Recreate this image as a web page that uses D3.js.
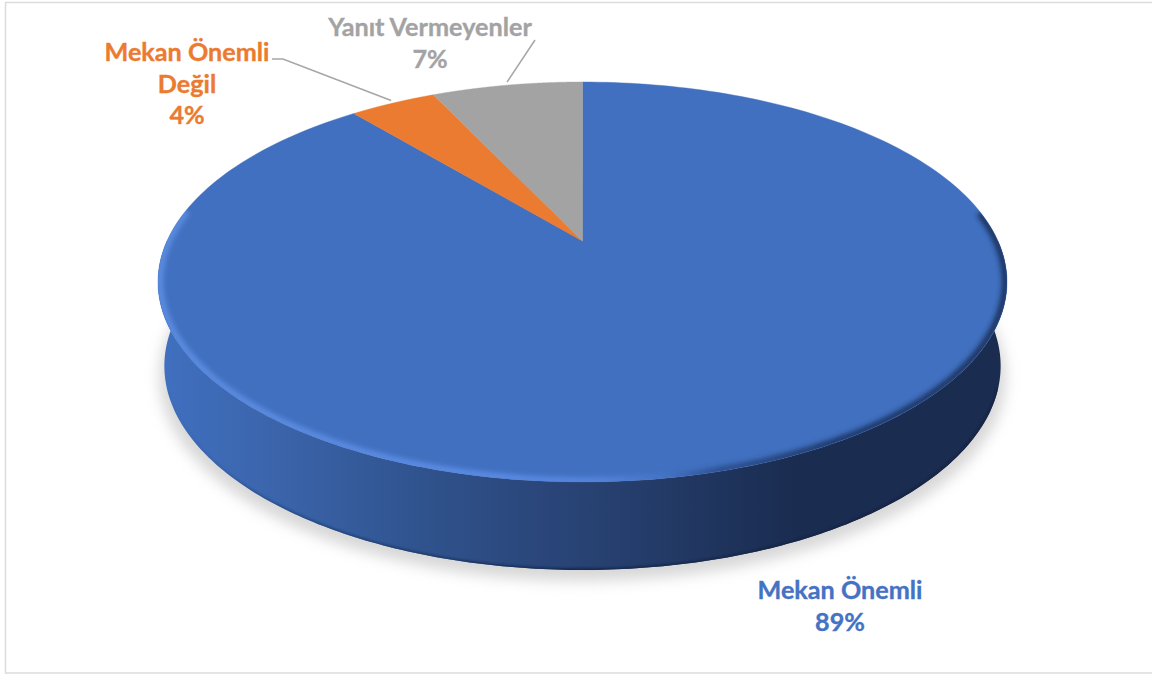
<!DOCTYPE html>
<html><head><meta charset="utf-8">
<script src="https://cdn.jsdelivr.net/npm/d3@7"></script>
<style>html,body{margin:0;padding:0;background:#fff}svg{display:block}text{font-family:Lato,"Open Sans",sans-serif;font-weight:700}</style>
</head><body><svg id="c" width="1152" height="674"></svg>
<script>
const categories=["Mekan Önemli","Mekan Önemli Değil","Yanıt Vermeyenler"];
const values=[89,4,7];
const colors=["#4170c0","#ea7b30","#a3a3a3"];
const labelLines=[["Mekan Önemli","89%"],["Mekan Önemli","Değil","4%"],["Yanıt Vermeyenler","7%"]];

const W=1152,H=674;
const svg=d3.select("#c");
const defs=svg.append("defs");
const cx=582.5,apexY=241,R=415.5,persA=142.2,persC=-0.205;
// perspective projection of the pie's unit disc onto the screen
const proj=(a,r=1,dy=0,sx=1,sy=1)=>{
  const u=Math.sin(a)*r,v=-Math.cos(a)*r,d=1+persC*v;
  const x=R*u/d,y=(persA*v+apexY)/d;
  return [cx+x*sx,282+(y-282)*sy+dy];
};
const line=d3.line();
const T=2*Math.PI;
const rim=(a0,a1,f)=>d3.range(0,241).map(i=>f(a0+(a1-a0)*i/240));
const topRim=a=>proj(a);
const footRim=a=>proj(a,1,84,0.985,1.02);

// border
svg.append("path").attr("d",line([[W,2.5],[5.5,2.5],[5.5,673],[W,673]]))
  .attr("fill","none").attr("stroke","#dcdcdc").attr("stroke-width",1.5);

// filters & gradients
const mkBlur=(id,s)=>defs.append("filter").attr("id",id).attr("x","-10%").attr("y","-10%").attr("width","120%").attr("height","120%")
  .append("feGaussianBlur").attr("stdDeviation",s);
mkBlur("b8",7);mkBlur("b2",2.6);mkBlur("b1",0.8);
const grad=(id,stops)=>{const g=defs.append("linearGradient").attr("id",id).attr("gradientUnits","userSpaceOnUse")
  .attr("x1",158).attr("x2",1007).attr("y1",0).attr("y2",0);
  stops.forEach(s=>g.append("stop").attr("offset",s[0]).attr("stop-color",s[1]).attr("stop-opacity",s[2]===undefined?1:s[2]));};
grad("side",[[0,"#4070c0"],[0.12,"#3c66ae"],[0.3,"#30548f"],[0.45,"#2a467a"],[0.6,"#233a66"],[0.75,"#1a2c50"],[1,"#1a2c50"]]);
grad("rimG",[[0,"#5b8ce0"],[0.4,"#5b8ce6"],[0.52,"#5585dc"],[0.6,"#4472c4"],[0.66,"#2c4f8e"],[0.78,"#1f3a6c"],[1,"#1c3360"]]);
grad("edgeG",[[0,"#2f5aa0",0],[0.15,"#234680",.8],[0.5,"#15264a"],[1,"#14233f"]]);

// shadow
svg.append("path").attr("d",line(rim(0,T,a=>{const p=footRim(a);return [582.5+(p[0]-582.5)*1.012,p[1]+11];}))+"Z")
  .attr("fill","#c4c4c4").attr("opacity",.68).attr("filter","url(#b8)");

// side wall: bottom half of the foot rim + top rim back
const sideOutline=[...rim(Math.PI*0.5,Math.PI*1.5,footRim),...rim(Math.PI*1.5,Math.PI*0.5,topRim)];
svg.append("path").attr("d",line(sideOutline)+"Z").attr("fill","url(#side)");
// dark edge at the foot of the wall
defs.append("clipPath").attr("id","sideClip").append("path").attr("d",line(sideOutline)+"Z");
svg.append("g").attr("clip-path","url(#sideClip)").append("path")
  .attr("d",line(rim(Math.PI*0.6,Math.PI*1.4,footRim))).attr("fill","none")
  .attr("stroke","url(#edgeG)").attr("stroke-width",3.5).attr("filter","url(#b1)");

// top-face slices, from the library's pie layout
const pie=d3.pie().sort(null).value(d=>d).startAngle(0).endAngle(T);
const arcs=pie(values);
svg.append("g").selectAll("path").data(arcs).join("path")
  .attr("d",d=>line([[cx,apexY],...rim(d.startAngle,d.endAngle,topRim)])+"Z")
  .attr("fill",(d,i)=>colors[i]).attr("stroke",(d,i)=>colors[i]).attr("stroke-width",.4);

// bevel along the first slice's rim
defs.append("clipPath").attr("id","faceClip").append("path").attr("d",line(rim(0,T,topRim))+"Z");
const b=arcs[0];
const bevelGroup=svg.append("g").attr("clip-path","url(#faceClip)");
bevelGroup.append("path")
  .attr("d",line(rim(b.startAngle+1.42,b.endAngle-0.72,a=>proj(a,0.996))))
  .attr("fill","none").attr("stroke","url(#rimG)").attr("stroke-width",7).attr("filter","url(#b2)");

// leader lines, anchored on the rim of their slice
const leaders=[[1,[[272,59],[283,59]],0.48],[2,[[535,40]],0.5]];
leaders.forEach(([i,pts,t])=>{
  const d=arcs[i],p=topRim(d.startAngle+(d.endAngle-d.startAngle)*t);
  svg.append("path").attr("d",line([...pts,[p[0],p[1]-3]])).attr("fill","none")
    .attr("stroke","#a6a6a6").attr("stroke-width",1.5);
});

// labels
const labelPos=[[840,599],[187,61],[430,36]];
const lh=[31.5,31.5,32];
labelLines.forEach((ls,i)=>{
  const col=i==0?"#4472c4":colors[i];
  const t=svg.append("text").attr("text-anchor","middle").attr("fill",col).attr("stroke",col).attr("stroke-width",.35).attr("font-size",25.2);
  ls.forEach((s,j)=>t.append("tspan").attr("x",labelPos[i][0]).attr("y",labelPos[i][1]+j*lh[i]).text(s));
});
</script></body></html>
